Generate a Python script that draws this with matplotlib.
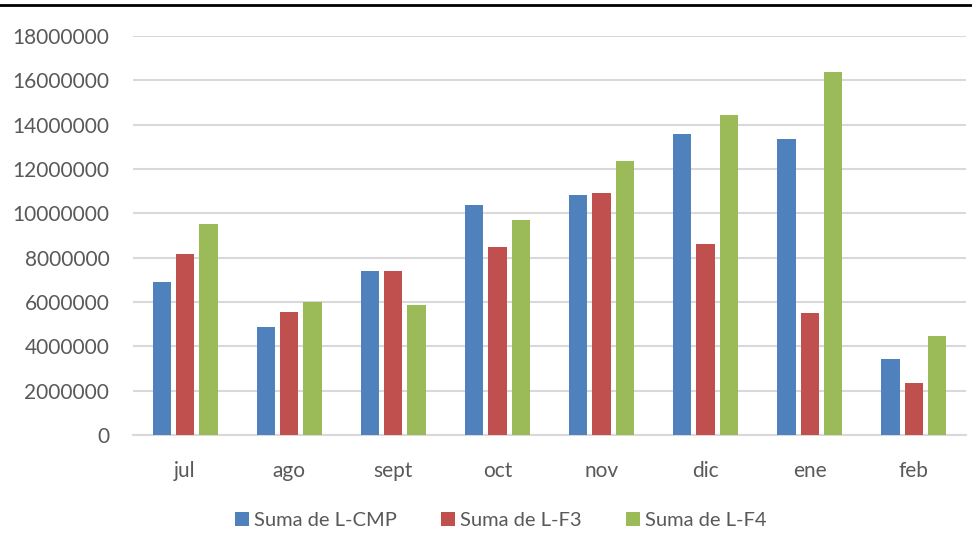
import numpy as np
import matplotlib.pyplot as plt
from matplotlib.lines import Line2D


# ----------------
# Data
months = ["jul", "ago", "sept", "oct", "nov", "dic", "ene", "feb"]
series_names = ["Suma de L-CMP", "Suma de L-F3", "Suma de L-F4"]
l_cmp = [6920000, 4890000, 7400000, 10370000, 10810000, 13570000, 13340000, 3410000]
l_f3 = [8170000, 5530000, 7410000, 8480000, 10900000, 8620000, 5490000, 2360000]
l_f4 = [9520000, 6020000, 5880000, 9710000, 12370000, 14420000, 16360000, 4470000]
colors = ["#4F81BD", "#C0504D", "#9BBB59"]

plt.rcParams["font.family"] = ["Lato", "DejaVu Sans"]

fig = plt.figure(figsize=(9.72, 5.48), dpi=100)
ax = fig.add_axes([0.1368, 0.2062, 0.857, 0.7281])

x = np.arange(len(months))
width = 0.176
step = 0.224
for i, (vals, name) in enumerate(zip([l_cmp, l_f3, l_f4], series_names)):
    ax.bar(x + (i - 1) * step, vals, width, color=colors[i], label=name,
           zorder=3)

ax.set_xlim(-0.5, len(months) - 0.5)
ax.set_ylim(0, 18000000)
ax.set_yticks(np.arange(0, 18000001, 2000000))
ax.set_yticklabels([str(v) for v in range(0, 18000001, 2000000)])
ax.set_xticks(x)
ax.set_xticklabels(months)

ax.grid(axis="y", color="#D9D9D9", linewidth=1.5, zorder=0)
for s in ["top", "right", "left"]:
    ax.spines[s].set_visible(False)
ax.spines["bottom"].set_color("#D9D9D9")
ax.spines["bottom"].set_linewidth(1.5)
ax.tick_params(axis="both", length=0, labelsize=15, colors="#595959")
ax.tick_params(axis="y", pad=17)
ax.tick_params(axis="x", pad=19)

leg = fig.legend(loc="center", bbox_to_anchor=(0.515, 0.05), ncol=3,
                 frameon=False, fontsize=14.5, handlelength=0.7,
                 handleheight=0.7, handletextpad=0.25, columnspacing=2.2)
for t in leg.get_texts():
    t.set_color("#595959")

# black rule along the top of the image
fig.add_artist(Line2D([0, 1], [0.991, 0.991], color="black", linewidth=2,
                      transform=fig.transFigure))

fig.savefig("out.png", dpi=100)
